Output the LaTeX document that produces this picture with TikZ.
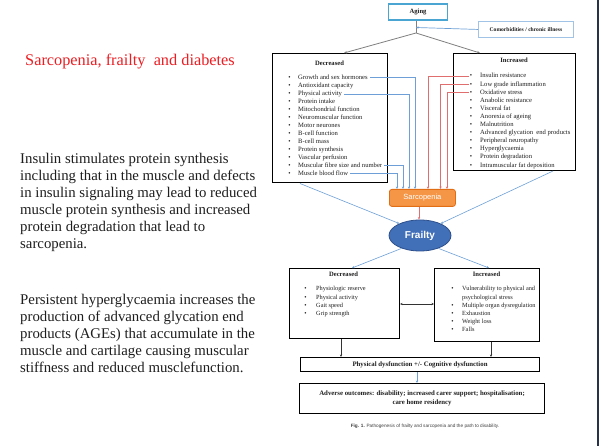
\documentclass[tikz,border=0pt]{standalone}
\usepackage{fontspec}
\setmainfont{Liberation Serif}
\newfontfamily\arialf{Liberation Sans}
\usetikzlibrary{shapes.geometric,arrows.meta,calc}
\definecolor{bluearr}{RGB}{110,160,215}
\definecolor{redarr}{RGB}{225,110,110}
\definecolor{agingc}{RGB}{75,165,210}
\definecolor{comorbc}{RGB}{160,195,230}
\definecolor{sarcfill}{RGB}{245,150,70}
\definecolor{sarcdraw}{RGB}{225,110,20}
\definecolor{frailfill}{RGB}{65,112,185}
\definecolor{fraildraw}{RGB}{45,80,140}
\definecolor{edgec}{RGB}{40,50,75}
\definecolor{titlered}{RGB}{235,30,35}
\definecolor{txtc}{RGB}{30,30,30}
\tikzset{
  bigbox/.style={draw=black, line width=1.1pt, inner sep=0pt, anchor=north west},
  itemtext/.style={font=\fontsize{6.6}{8}\selectfont, inner sep=0pt, anchor=base west, text=txtc},
  smallitem/.style={font=\fontsize{6.3}{8}\selectfont, inner sep=0pt, anchor=base west, text=txtc},
  bul/.style={font=\fontsize{6.6}{8}\selectfont, inner sep=0pt, anchor=base, text=txtc},
  boxtitle/.style={font=\fontsize{6.6}{8}\selectfont\bfseries, inner sep=0pt, text=txtc},
  bluel/.style={draw=bluearr, line width=0.6pt, -{Stealth[length=2.5pt,width=2.2pt]}},
  redl/.style={draw=redarr, line width=0.6pt, -{Stealth[length=2.5pt,width=2.2pt]}},
  greyl/.style={draw=gray, line width=0.8pt},
  blackl/.style={draw=black!80, line width=0.5pt, -{Stealth[length=2.5pt,width=2.2pt]}},
  bigtext/.style={font=\fontsize{14.8}{17}\selectfont, inner sep=0pt, anchor=north west, align=left, text=txtc},
}
\begin{document}
\begin{tikzpicture}[x=1pt,y=-1pt]
\useasboundingbox (0,0) rectangle (600,446);
\fill[white] (0,0) rectangle (600,446);
% right border
\draw[edgec, line width=1.6pt] (598,0) -- (598,446);

% left text
\node[font=\fontsize{16.3}{18}\selectfont, text=titlered, inner sep=0pt, anchor=base west] (title) at (25,66) {Sarcopenia, frailty \ and diabetes};
\node[bigtext] (para1) at (20,153.5) {Insulin stimulates protein synthesis\\including that in the muscle and defects\\in insulin signaling may lead to reduced\\muscle protein synthesis and increased\\protein degradation that lead to\\sarcopenia.};
\node[bigtext] (para2) at (20,294.5) {Persistent hyperglycaemia increases the\\production of advanced glycation end\\products (AGEs) that accumulate in the\\muscle and cartilage causing muscular\\stiffness and reduced musclefunction.};

% Aging
\node[draw=agingc, line width=1.1pt, minimum width=59pt, minimum height=16pt, anchor=north west, inner sep=0pt, font=\fontsize{6.6}{8}\selectfont\bfseries, text=txtc] (aging) at (388,3.5) {Aging};
\node[draw=comorbc, line width=0.9pt, minimum width=95pt, minimum height=16pt, anchor=north west, inner sep=0pt, font=\fontsize{5.6}{7}\selectfont\bfseries, text=txtc] (comorb) at (478,21) {Comorbidities / chronic illness};
\coordinate (split) at (416,33);
\coordinate (mid1) at (416,27.5);

% top boxes
\node[bigbox, minimum width=115pt, minimum height=129pt] (dec) at (272,53) {};
\node[bigbox, minimum width=122pt, minimum height=117pt] (inc) at (453,53) {};
\node[boxtitle] (dect) at (329.5,63) {Decreased};
\node[boxtitle] (inct) at (514,60) {Increased};

\foreach \t [count=\i] in {Growth and sex hormones, Antioxidant capacity, Physical activity, Protein intake, Mitochondrial function, Neuromuscular function, Motor neurones, B-cell function, B-cell mass, Protein synthesis, Vascular perfusion, Muscular fibre size and number, Muscle blood flow}{
  \node[itemtext] (d\i) at (298,{80+8*(\i-1)}) {\t};
  \node[bul] (db\i) at (289.5,{80+8*(\i-1)}) {\textbullet};
}
\foreach \t [count=\i] in {Insulin resistance, Low grade inflammation, Oxidative stress, Anabolic resistance, Visceral fat, Anorexia of ageing, Malnutrition, Advanced glycation \ end products, Peripheral neuropathy, Hyperglycaemia, Protein degradation, Intramuscular fat deposition}{
  \node[itemtext] (i\i) at (480,{78+8.1*(\i-1)}) {\t};
  \node[bul] (ib\i) at (471,{78+8.1*(\i-1)}) {\textbullet};
}

% Aging connectors
\draw[greyl] (aging.south -| split) -- (split);
\draw[greyl, -{Stealth[length=3pt,width=2.5pt]}] (split) -- (dec.north -| 344,0);
\draw[greyl, -{Stealth[length=3pt,width=2.5pt]}] (split) -- (inc.north -| 480,0);
\draw[draw=bluearr, line width=0.7pt, -{Stealth[length=2.5pt,width=2.2pt]}] (comorb.west) -- (mid1);

% Sarcopenia and Frailty
\node[draw=sarcdraw, fill=sarcfill, line width=0.8pt, rounded corners=2.5pt, minimum width=66pt, minimum height=17pt, anchor=north west, inner sep=0pt, font=\arialf\fontsize{7.5}{9}\selectfont, text=white] (sarc) at (389,189) {Sarcopenia};
\node[ellipse, draw=fraildraw, fill=frailfill, line width=0.8pt, minimum width=62pt, minimum height=31pt, inner sep=0pt, font=\arialf\fontsize{10}{12}\selectfont\bfseries, text=white] (frail) at (420,235.5) {Frailty};

% blue elbow arrows
\draw[bluel] ([xshift=2pt]d1.east) -| ([xshift=26pt]sarc.north west);
\draw[bluel] ([xshift=2pt]d3.east) -| ([xshift=20pt]sarc.north west);
\draw[bluel] ([xshift=2pt]d12.east) -| ([xshift=14pt]sarc.north west);
\draw[bluel] ([xshift=2pt]d13.east) -| ([xshift=8pt]sarc.north west);
% red elbow arrows
\draw[redl] ([xshift=-1pt]ib1.west) -| ([xshift=39pt]sarc.north west);
\draw[redl] ([xshift=-1pt]ib2.west) -| ([xshift=51.5pt]sarc.north west);
\draw[redl] ([xshift=-1pt]ib3.west) -| ([xshift=58pt]sarc.north west);
\draw[redl] ([xshift=30pt]sarc.south west) -- (frail.north -| 419,0);

% into frailty
\coordinate (decfoot) at (300,183.5);
\coordinate (incfoot) at (553,171);
\draw[bluel] (decfoot) -- (frail.150);
\draw[bluel] (incfoot) -- (frail.30);

% lower boxes
\node[bigbox, minimum width=110pt, minimum height=70pt] (ldec) at (289,268) {};
\node[bigbox, minimum width=105pt, minimum height=73pt] (linc) at (434,268) {};
\node[boxtitle] (ldect) at (343.5,274) {Decreased};
\node[boxtitle] (linct) at (486.5,274) {Increased};
\draw[bluel] (frail.215) -- (ldec.north -| 352,0);
\draw[bluel] (frail.325) -- (linc.north -| 489,0);

\foreach \t [count=\i] in {Physiologic reserve, Physical activity, Gait speed, Grip strength}{
  \node[smallitem] (ld\i) at (316,{291+8.2*(\i-1)}) {\t};
  \node[bul] (ldb\i) at (305.5,{291+8.2*(\i-1)}) {\textbullet};
}
\foreach \t/\b [count=\i] in {Vulnerability to physical and/1, psychological stress/0, Multiple organ dysregulation/1, Exhaustion/1, Weight loss/1, Falls/1}{
  \node[smallitem] (li\i) at (462,{291+8.1*(\i-1)}) {\t};
  \ifnum\b=1 \node[bul] (lib\i) at (452.5,{291+8.1*(\i-1)}) {\textbullet};\fi
}
\draw[black!80, line width=0.5pt, {Stealth[length=2.5pt,width=2.2pt]}-{Stealth[length=2.5pt,width=2.2pt]}] (ldec.east |- 0,304) -- (linc.west |- 0,304);

% physical / adverse
\node[draw=black, line width=1.1pt, minimum width=239pt, minimum height=14pt, anchor=north west, inner sep=0pt, font=\fontsize{6.8}{8}\selectfont\bfseries, text=txtc] (phys) at (300,357) {Physical dysfunction +/- Cognitive dysfunction};
\draw[blackl] (ldec.south -| 341,0) -- (phys.north -| 341,0);
\draw[blackl] (linc.south -| 491,0) -- (phys.north -| 491,0);
\node[draw=black, line width=1.1pt, minimum width=245pt, minimum height=30pt, anchor=north west, inner sep=0pt, align=center, font=\fontsize{6.8}{9.5}\selectfont\bfseries, text=txtc] (adv) at (299,383) {Adverse outcomes: disability; increased carer support; hospitalisation;\\care home residency};
\draw[bluel] (phys.south -| 417,0) -- (adv.north -| 417,0);

\node[font=\arialf\fontsize{4.7}{6}\selectfont, text=black!75, inner sep=0pt] (cap) at (425,426) {\textbf{Fig. 1.} Pathogenesis of frailty and sarcopenia and the path to disability.};
\end{tikzpicture}
\end{document}
